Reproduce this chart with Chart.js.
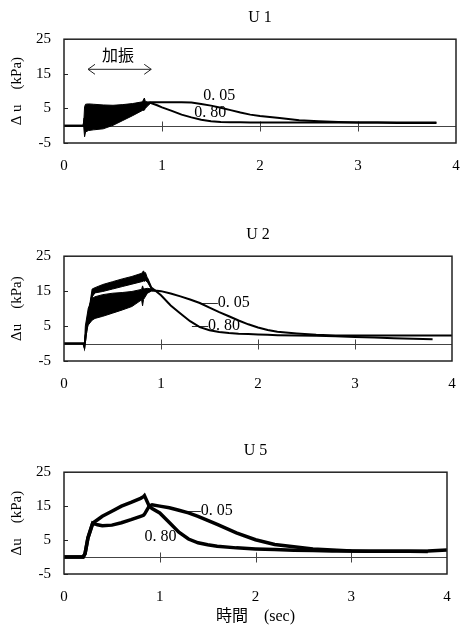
<!DOCTYPE html>
<html>
<head>
<meta charset="utf-8">
<script src="https://cdn.jsdelivr.net/npm/chart.js@4.4.1/dist/chart.umd.min.js"></script>
<style>
body{margin:0;background:#fff;width:462px;height:628px;position:relative;overflow:hidden}
canvas{position:absolute;left:0}
</style>
</head>
<body>
<canvas id="c1" width="462" height="190" style="top:0px"></canvas>
<canvas id="c2" width="462" height="190" style="top:217px"></canvas>
<canvas id="c3" width="462" height="195" style="top:433px"></canvas>
<script>
// U1 - time (sec) and pore pressure (kPa)
const u1T    = [0, 0.2, 0.21, 0.3, 0.4, 0.5, 0.6, 0.7, 0.8, 0.88, 0.95, 1.0, 1.1, 1.2, 1.3, 1.4, 1.5, 1.6, 1.7, 1.8, 1.9, 2.0, 2.2, 2.4, 2.6, 2.8, 3.0, 3.2, 3.4, 3.6, 3.8]
const u1_005 = [0, 0, 2, 2.5, 2.7, 3, 4, 5, 6, 6.8, 6.8, 6.8, 6.8, 6.8, 6.7, 6.3, 5.8, 5.2, 4.5, 3.8, 3.2, 2.8, 2.2, 1.6, 1.3, 1.1, 0.9, 0.9, 0.8, 0.8, 0.8]
const u1_080 = [0, 0, 2, 2.5, 2.7, 3, 4, 5, 6, 6.6, 5.9, 5.3, 4.3, 3.2, 2.4, 1.7, 1.3, 1.1, 1.0, 1.0, 0.9, 0.9, 0.9, 0.9, 0.9, 0.9, 0.9, 0.9, 0.9, 0.9, 0.9]
// oscillation envelope during shaking
const u1BandT  = [0.2, 0.21, 0.22, 0.25, 0.3, 0.4, 0.5, 0.6, 0.7, 0.8, 0.82, 0.83, 0.85, 0.88]
const u1BandHi = [0, 5.5, 6.2, 6.3, 6.2, 6.0, 5.9, 6.1, 6.4, 6.9, 8.0, 7.0, 6.9, 6.8]
const u1BandLo = [0, -3.2, -1.8, -1.4, -1.2, -0.9, 0.1, 1.5, 2.9, 4.4, 4.5, 5.0, 5.6, 6.4]

// U2
const u2T    = [0, 0.2, 0.21, 0.25, 0.3, 0.4, 0.5, 0.6, 0.7, 0.8, 0.86, 0.9, 0.94, 1.0, 1.1, 1.2, 1.3, 1.4, 1.5, 1.6, 1.7, 1.8, 1.9, 2.0, 2.1, 2.2, 2.4, 2.6, 2.8, 3.0, 3.2, 3.4, 3.6, 3.8, 4.0]
const u2_005 = [0, 0, -0.9, 8, 11, 11, 11.5, 12, 12.8, 14, 15, 15.5, 15.2, 15.0, 14.3, 13.5, 12.6, 11.6, 10.3, 9.0, 7.8, 6.6, 5.5, 4.6, 3.9, 3.4, 2.9, 2.5, 2.3, 2.3, 2.3, 2.3, 2.3, 2.3, 2.3]
const u2_080 = [0, 0, -0.9, 8, 15, 16, 16.7, 17.4, 18.1, 18.9, 18.5, 16.0, 15.2, 13.8, 10.9, 8.6, 6.4, 4.7, 3.8, 3.3, 3.0, 2.8, 2.7, 2.6, 2.5, 2.4, 2.3, 2.2, 2.1, 1.9, 1.7, 1.5, 1.35, 1.2, null]
const u2BandAT  = [0.25, 0.27, 0.29, 0.32, 0.4, 0.5, 0.6, 0.7, 0.8, 0.82, 0.83, 0.84, 0.86, 0.9]
const u2BandAHi = [8, 12, 15.6, 16.0, 16.9, 17.7, 18.5, 19.2, 20.1, 20.8, 20.2, 20.3, 18.7, 16.0]
const u2BandALo = [8, 10, 13.4, 14.5, 14.9, 15.6, 16.3, 17.0, 17.7, 17.9, 17.8, 18.0, 17.6, 15.6]
const u2BandBT  = [0.21, 0.22, 0.25, 0.29, 0.32, 0.4, 0.5, 0.6, 0.7, 0.8, 0.81, 0.82, 0.86, 0.9, 0.94]
const u2BandBHi = [-0.9, 5, 10.1, 12.9, 13.4, 14.0, 14.4, 14.6, 14.9, 15.5, 16.5, 15.6, 15.8, 15.6, 15.3]
const u2BandBLo = [-0.9, 2.4, 5.3, 6.7, 7.2, 7.8, 8.7, 9.6, 10.6, 12.5, 10.8, 12.6, 14.4, 15.0, 15.0]

// U5
const u5T    = [0, 0.1, 0.2, 0.22, 0.25, 0.3, 0.35, 0.4, 0.5, 0.6, 0.7, 0.8, 0.83, 0.84, 0.89, 0.92, 1.0, 1.1, 1.2, 1.3, 1.4, 1.5, 1.6, 1.8, 2.0, 2.2, 2.4, 2.6, 2.8, 3.0, 3.2, 3.4, 3.6, 3.8, 4.0]
const u5_080 = [0, 0, 0, 1, 5.6, 10, 11, 12, 13.5, 15, 16.1, 17.3, 17.8, 18.1, 15, 14.3, 13.0, 10.2, 7.3, 5.3, 4.2, 3.6, 3.2, 2.7, 2.4, 2.2, 2.0, 1.9, 1.8, 1.8, 1.7, 1.7, 1.7, 1.6, null]
const u5_005 = [0, 0, 0, 1, 5.6, 10, 9.5, 9.2, 9.4, 10.1, 11.0, 12.0, 12.3, 12.6, 15, 15.4, 15.0, 14.5, 13.8, 13.0, 12.0, 10.8, 9.6, 7.1, 5.1, 3.7, 3.0, 2.4, 2.1, 1.8, 1.7, 1.7, 1.7, 1.8, 2.1]

const SERIF = '"Liberation Serif", "Noto Sans CJK JP", serif'

function pts(ts, vs){
    return ts.map((t, i) => ({x: t, y: vs[i]}))
}
function line(ts, vs, w){
    return {data: pts(ts, vs), borderColor: '#000', borderWidth: w, pointRadius: 0, fill: false, tension: 0}
}
function band(ts, hi, lo){
    return [
        {data: pts(ts, hi), borderColor: '#000', borderWidth: 1, pointRadius: 0, backgroundColor: '#000', fill: '+1', tension: 0},
        {data: pts(ts, lo), borderColor: '#000', borderWidth: 1, pointRadius: 0, fill: false, tension: 0}
    ]
}

function deco(marks){
    return {
        id: 'deco',
        beforeDatasetsDraw(chart){
            const {ctx, chartArea: a, scales: {x, y}} = chart
            const y0 = Math.round(y.getPixelForValue(0)) + 0.5
            ctx.save()
            ctx.strokeStyle = '#444'
            ctx.lineWidth = 1
            ctx.beginPath()
            ctx.moveTo(a.left, y0); ctx.lineTo(a.right, y0)
            x.ticks.forEach(tk => {
                if (tk.value <= x.min || tk.value >= x.max) return
                const px = Math.round(x.getPixelForValue(tk.value)) + 0.5
                ctx.moveTo(px, y0 - 5); ctx.lineTo(px, y0 + 5)
            })
            ctx.stroke()
            ctx.restore()
        },
        afterDraw(chart){
            const {ctx, chartArea: a, scales: {x, y}} = chart
            ctx.save()
            ctx.strokeStyle = '#222'
            ctx.lineWidth = 1.5
            ctx.strokeRect(a.left, a.top, a.right - a.left, a.bottom - a.top)
            ctx.lineWidth = 1
            ctx.beginPath()
            y.ticks.forEach(tk => {
                const py = Math.round(y.getPixelForValue(tk.value)) + 0.5
                ctx.moveTo(a.left, py); ctx.lineTo(a.left + 4, py)
            })
            ctx.stroke()
            ctx.fillStyle = '#000'
            ctx.textBaseline = 'middle'
            marks.labels.forEach(m => {
                ctx.font = m.font || ('16px ' + SERIF)
                ctx.textAlign = m.align || 'left'
                ctx.fillText(m.text, x.getPixelForValue(m.x), y.getPixelForValue(m.y))
            })
            if (marks.arrow) {
                const ar = marks.arrow
                const p1 = x.getPixelForValue(ar.x1), p2 = x.getPixelForValue(ar.x2), py = y.getPixelForValue(ar.y)
                ctx.beginPath()
                ctx.moveTo(p1, py); ctx.lineTo(p2, py)
                ctx.moveTo(p1 + 7, py - 5); ctx.lineTo(p1, py); ctx.lineTo(p1 + 7, py + 5)
                ctx.moveTo(p2 - 7, py - 5); ctx.lineTo(p2, py); ctx.lineTo(p2 - 7, py + 5)
                ctx.stroke()
            }
            ctx.restore()
        }
    }
}

function makeChart(id, cfg){
    let datasets = []
    cfg.bands.forEach(b => { datasets = datasets.concat(band(b[0], b[1], b[2])) })
    cfg.lines.forEach(l => datasets.push(line(cfg.t, l, cfg.lw)))
    return new Chart(document.getElementById(id), {
        type: 'line',
        data: {datasets: datasets},
        options: {
            responsive: false,
            animation: false,
            events: [],
            layout: {padding: {left: 0, right: cfg.padRight, top: 0, bottom: 0}},
            plugins: {
                legend: {display: false},
                tooltip: {enabled: false},
                title: {display: true, text: cfg.title, fullSize: false, color: '#000',
                        font: {family: SERIF, size: 16, weight: 'normal'}, padding: {top: 8, bottom: 12}}
            },
            scales: {
                x: {
                    type: 'linear', min: 0, max: 4,
                    // tick marks hidden, but their length still spaces the labels
                    grid: {display: false, drawTicks: true, tickLength: 13},
                    border: {display: false},
                    ticks: {stepSize: 1, color: '#000', font: {family: SERIF, size: 15}, padding: 1, maxRotation: 0},
                    title: {display: !!cfg.xTitle, text: cfg.xTitle || '', color: '#000',
                            font: {family: SERIF, size: 16}, padding: {top: 0, bottom: 2}},
                    afterFit: s => { s.height = cfg.xHeight }
                },
                y: {
                    min: -5, max: 25,
                    grid: {display: false, drawTicks: true, tickLength: 12},
                    border: {display: false},
                    ticks: {stepSize: 10, color: '#000', font: {family: SERIF, size: 15}, padding: 1},
                    title: {display: true, text: cfg.yTitle, color: '#000',
                            font: {family: SERIF, size: 15}, padding: {top: 8, bottom: 0}},
                    afterFit: s => { s.width = 64 }
                }
            }
        },
        plugins: [deco(cfg.marks)]
    })
}

makeChart('c1', {
    title: 'U 1', yTitle: 'Δ u　(kPa)', t: u1T, lw: 2, padRight: 6, xHeight: 47,
    bands: [[u1BandT, u1BandHi, u1BandLo]],
    lines: [u1_005, u1_080],
    marks: {
        labels: [
            {text: '0. 05', x: 1.42, y: 8.6},
            {text: '0. 80', x: 1.33, y: 3.7},
            {text: '加振', x: 0.55, y: 20.4, align: 'center', font: '16px "Noto Sans CJK JP"'}
        ],
        arrow: {x1: 0.245, x2: 0.89, y: 16.3}
    }
})

makeChart('c2', {
    title: 'U 2', yTitle: 'Δu　(kPa)', t: u2T, lw: 2, padRight: 10, xHeight: 46,
    bands: [[u2BandAT, u2BandAHi, u2BandALo], [u2BandBT, u2BandBHi, u2BandBLo]],
    lines: [u2_005, u2_080],
    marks: {
        labels: [
            {text: '—0. 05', x: 1.42, y: 11.6},
            {text: '—0. 80', x: 1.32, y: 5.2}
        ]
    }
})

makeChart('c3', {
    title: 'U 5', yTitle: 'Δu　(kPa)', xTitle: '時間　(sec)', t: u5T, lw: 3.5, padRight: 15, xHeight: 54,
    bands: [],
    lines: [u5_005, u5_080],
    marks: {
        labels: [
            {text: '—0. 05', x: 1.26, y: 13.5},
            {text: '0. 80', x: 0.84, y: 6.1}
        ]
    }
})
</script>
</body>
</html>
